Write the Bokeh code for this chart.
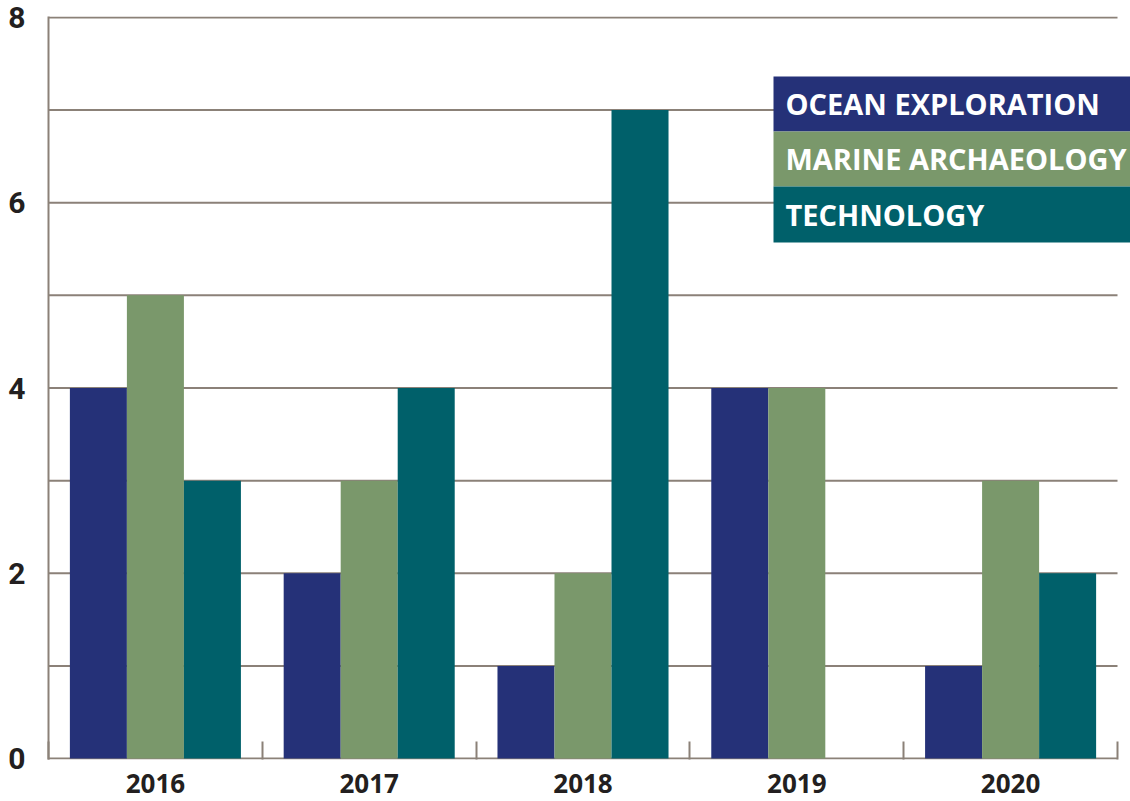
from bokeh.plotting import figure
from bokeh.models import Range1d, FixedTicker
from bokeh.core.properties import value
from bokeh.embed import file_html
from bokeh.resources import INLINE

# ---- data ----
years = ["2016", "2017", "2018", "2019", "2020"]
ocean_exploration = [4, 2, 1, 4, 1]
marine_archaeology = [5, 3, 2, 4, 3]
technology = [3, 4, 7, 0, 2]
series_names = ["OCEAN EXPLORATION", "MARINE ARCHAEOLOGY", "TECHNOLOGY"]
y_tick_values = [0, 2, 4, 6, 8]
grid_values = [0, 1, 2, 3, 4, 5, 6, 7, 8]

# ---- styles ----
colors = ["#253178", "#7a986b", "#00606a"]
grid_color = "#8b8178"
text_color = "#231f20"
FONT = "Open Sans"

n = len(years)
bar_w = 0.8 / 3

p = figure(width=1130, height=801, output_backend="svg", toolbar_location=None,
           x_range=Range1d(0, n + 0.0608), y_range=Range1d(-0.01, 8.01),
           min_border_left=48, min_border_right=0, min_border_top=16, min_border_bottom=42)
p.outline_line_color = None
p.xgrid.visible = False
p.ygrid.visible = False
p.background_fill_color = "white"
p.border_fill_color = "white"

# gridlines spanning only the group area
p.segment(x0=[0] * len(grid_values), x1=[n] * len(grid_values), y0=grid_values, y1=grid_values,
          line_color=grid_color, line_width=2)

centers = [i + 0.5 for i in range(n)]
for k, vals in enumerate([ocean_exploration, marine_archaeology, technology]):
    xs = [c + (k - 1) * bar_w for c in centers]
    p.vbar(x=xs, top=vals, width=bar_w, bottom=0, fill_color=colors[k], line_color=None)

# legend boxes (top-right)
lx0, lx1 = 3.391, n + 0.1
ly = [7.363, 6.769, 6.175, 5.571]
p.quad(left=[lx0] * 3, right=[lx1] * 3, top=ly[:3], bottom=ly[1:], fill_color=colors, line_color=None)
p.text(x=[3.447] * 3, y=[(ly[i] + ly[i + 1]) / 2 for i in range(3)], text=series_names,
       text_color="white", text_font=value(FONT), text_font_style="bold",
       text_font_size="29px", text_baseline="middle", text_align="left")

# y axis
ya = p.yaxis[0]
ya.ticker = FixedTicker(ticks=y_tick_values)
ya.major_tick_line_color = None
ya.minor_tick_line_color = None
ya.axis_line_color = grid_color
ya.axis_line_width = 2
ya.major_label_standoff = 17
ya.major_label_text_font = "Roboto"
ya.major_label_text_font_style = "bold"
ya.major_label_text_font_size = "30px"
ya.major_label_text_color = text_color

# x axis
xa = p.xaxis[0]
xa.ticker = FixedTicker(ticks=centers, minor_ticks=list(range(n + 1)))
xa.major_label_overrides = {c: y for c, y in zip(centers, years)}
xa.major_tick_line_color = None
xa.minor_tick_in = 18
xa.minor_tick_out = 0
xa.minor_tick_line_color = grid_color
xa.minor_tick_line_width = 2
xa.axis_line_color = None
xa.major_label_standoff = 8
xa.major_label_text_font = FONT
xa.major_label_text_font_style = "bold"
xa.major_label_text_font_size = "26px"
xa.major_label_text_color = text_color

open("out.html", "w").write(file_html(p, INLINE))
